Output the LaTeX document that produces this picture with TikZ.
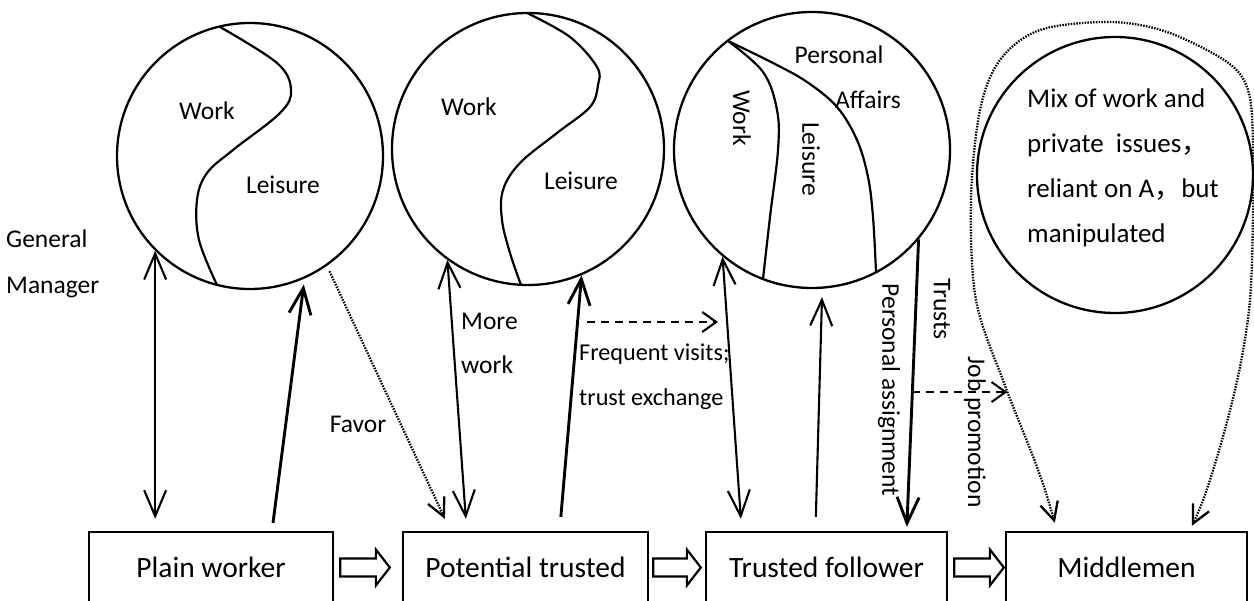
\documentclass[tikz,border=0pt]{standalone}
\usepackage{fontspec}
\setmainfont{Carlito}
\newfontfamily\cjkfont{Noto Sans CJK SC}
\usetikzlibrary{arrows.meta,calc}

\tikzset{
  ring/.style={draw, circle, line width=2.3pt, inner sep=0pt},
  divider/.style={line width=2.2pt},
  stage/.style={draw, line width=2.3pt, minimum height=71pt, inner sep=0pt,
                font=\fontsize{29.5}{32}\selectfont},
  lbl/.style={inner sep=0pt, font=\fontsize{25.5}{30}\selectfont},
  vlbl/.style={lbl, rotate=-90},
  hollow/.style={draw, line width=2.2pt, line join=miter, fill=white},
  link/.style={line width=2.1pt},
  strong/.style={line width=2.9pt},
  vee/.style={-{Straight Barb[length=26pt,width=22pt]}},
  veeboth/.style={{Straight Barb[length=26pt,width=22pt]}-{Straight Barb[length=26pt,width=22pt]}},
  dashedlink/.style={line width=2.1pt, dash pattern=on 8pt off 6pt,
                     -{Straight Barb[length=14pt,width=20pt]}},
  dottedlink/.style={line width=2.3pt, dash pattern=on 1.5pt off 1.3pt},
  dotvee/.style={-{Straight Barb[length=18pt,width=18pt]}},
  dotveeboth/.style={{Straight Barb[length=18pt,width=18pt]}-{Straight Barb[length=18pt,width=18pt]}},
}

% hollow block arrow between two stages: #1 tail point, #2 tip point
\newcommand\stagearrow[2]{%
  \draw[hollow] let \p1=#1, \p2=#2 in
    (\x1,\y1+9pt) -- (\x2-14pt,\y1+9pt) -- (\x2-14pt,\y1+18pt) -- (\x2,\y1)
    -- (\x2-14pt,\y1-18pt) -- (\x2-14pt,\y1-9pt) -- (\x1,\y1-9pt) -- cycle;}

\begin{document}
\begin{tikzpicture}[x=1pt,y=-1pt]
\useasboundingbox (0,0) rectangle (1254,601);

% ---- circles ----
\node[ring, minimum size=266pt] (c1) at (250,156) {};
\node[ring, minimum size=272pt] (c2) at (528,149) {};
\node[ring, minimum size=276pt] (c3) at (812,150) {};
\node[ring, minimum size=276pt] (c4) at (1115,175) {};

% dividing curves
\draw[divider] plot[smooth, tension=0.6] coordinates
  {(220,27) (277,63) (291,90) (280,113) (233,150) (207,173) (197,200) (199,240) (217,285)};
\draw[divider] plot[smooth, tension=0.6] coordinates
  {(527,13) (570,37) (597,67) (598,85) (590,107) (557,133) (520,163) (503,190) (502,220) (510,253) (521,285)};
\draw[divider] plot[smooth, tension=0.6] coordinates
  {(728,41) (763,72) (777,110) (778,150) (770,217) (763,279)};
\draw[divider] plot[smooth, tension=0.6] coordinates
  {(728,41) (773,63) (807,82) (837,107) (857,140) (868,177) (873,217) (876,272)};

% circle contents
\node[lbl] (w1) at (207,111) {Work};
\node[lbl] (l1) at (283,185) {Leisure};
\node[lbl] (w2) at (469,107) {Work};
\node[lbl] (l2) at (581,181) {Leisure};
\node[vlbl] (w3) at (742,118) {Work};
\node[vlbl] (l3) at (811,159) {Leisure};
\node[lbl] (pa1) at (839,55) {Personal};
\node[lbl] (pa2) at (868,100) {Affairs};
\node[align=left, anchor=west, inner sep=0pt, font=\fontsize{27}{45}\selectfont] (mix) at (1027,168)
  {Mix of work and\\private\ \ issues{\cjkfont ，}\\reliant on A{\cjkfont ，}but\\manipulated};

% ---- stages ----
\node[stage, minimum width=244pt] (b1) at (211,567.5) {Plain worker};
\node[stage, minimum width=245pt] (b2) at (525.5,567.5) {Potential trusted};
\node[stage, minimum width=241pt] (b3) at (826.5,567.5) {Trusted follower};
\node[stage, minimum width=241pt] (b4) at (1126.5,567.5) {Middlemen};

\stagearrow{($(b1.east)+(6,0)$)}{($(b2.west)+(-12,0)$)}
\stagearrow{($(b2.east)+(4,0)$)}{($(b3.west)+(-4,0)$)}
\stagearrow{($(b3.east)+(6,0)$)}{($(b4.west)+(-1,0)$)}

% ---- side labels ----
\node[align=left, anchor=west, inner sep=0pt, font=\fontsize{25.5}{46}\selectfont] (gm) at (6,264) {General\\Manager};
\node[align=left, anchor=west, inner sep=0pt, font=\fontsize{25.5}{44}\selectfont] (mw) at (461,343) {More\\work};
\node[lbl] (fav) at (358,424) {Favor};
\node[align=left, anchor=west, inner sep=0pt, font=\fontsize{24.2}{45}\selectfont] (fv) at (579,377) {Frequent visits;\\trust exchange};
\node[vlbl] (pas) at (889,390) {Personal assignment};
\node[vlbl] (tr) at (942,309) {Trusts};
\node[vlbl] (jp) at (975,432) {Job promotion};

% ---- connectors ----
% plain worker
\draw[link, veeboth, shorten >=12pt] (c1.225.6) -- (c1.225.6 |- b1.north);
\draw[strong, vee, shorten >=6pt] ($(b1.north)+(62,-8)$) -- (c1.294.4);
\draw[dottedlink, dotvee, shorten <=6pt] (c1.305.7) -- ($(b2.north west)+(43,-12)$);
% potential trusted
\draw[link, veeboth] (c2.234.6) -- ($(b2.north west)+(64,-12)$);
\draw[strong, vee] ($(b2.north west)+(159,-14)$) -- (c2.293.5);
\coordinate (fvS) at (587,322);
\coordinate (fvE) at (718,322);
\draw[dashedlink] (fvS) -- (fvE);
% trusted follower
\draw[link, veeboth] (c3.230.6) -- ($(b3.north west)+(36,-12)$);
\draw[link, vee] ($(b3.north west)+(111,-14)$) -- ($(c3.south)+(10,8)$);
\draw[strong, vee] (c3.320.8) -- ($(b3.north west)+(202,-4)$);
\path (c3.320.8) -- ($(b3.north west)+(202,-4)$) coordinate[pos=0.531] (jpS);
\draw[dashedlink] (jpS) -- ++(95,0);
% middlemen envelope
\coordinate (envL) at ($(b4.north west)+(50,-8)$);
\coordinate (envR) at ($(b4.north west)+(187,-5)$);
\draw[dottedlink, dotveeboth] plot[smooth, tension=0.55] coordinates
  {(envL) (1037,467) (1004,383) (976,300) (971,200) (980,110) (1000,60) (1040,30) (1110,22)
   (1167,32) (1227,62) (1248,90) (1253,140) (1253,217) (1250,300) (1240,367) (1224,433) (1205,495) (envR)};
\end{tikzpicture}
\end{document}
